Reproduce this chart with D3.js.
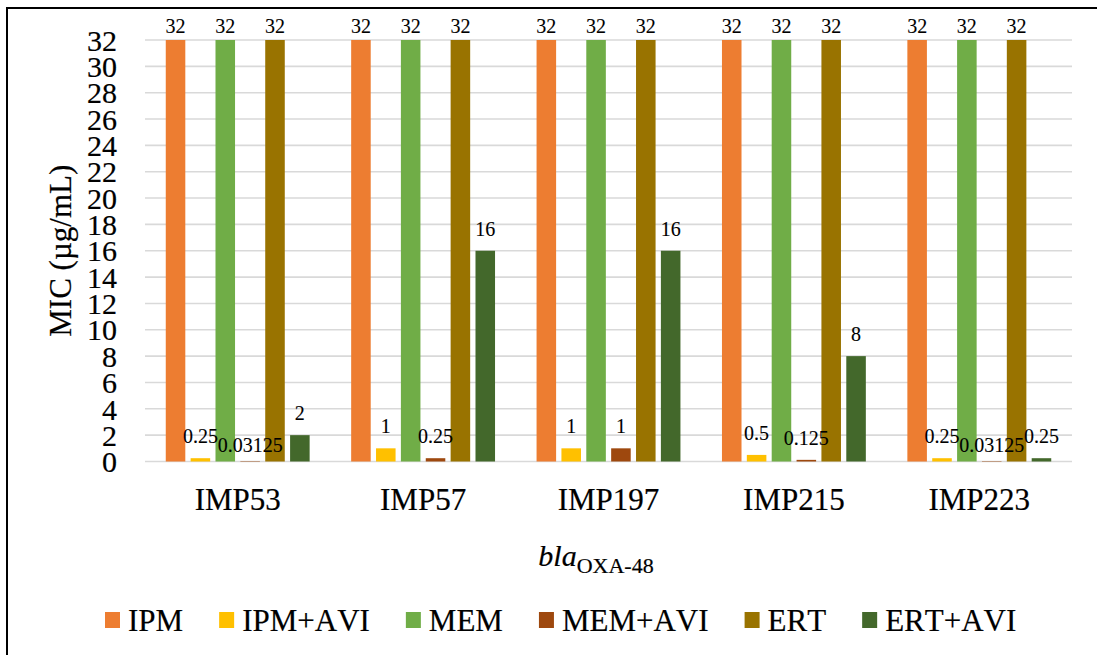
<!DOCTYPE html>
<html>
<head>
<meta charset="utf-8">
<script src="https://cdn.jsdelivr.net/npm/d3@7"></script>
<style>
  html, body { margin: 0; padding: 0; background: #ffffff; }
  svg text {
    font-family: "Liberation Serif", "Times New Roman", serif !important;
    font-kerning: none;
    stroke: #000;
    stroke-width: 0.2px;
  }
</style>
</head>
<body>
<svg id="chart" width="1097" height="655"></svg>
<script>
// Isolates carrying blaOXA-48
const categories = ["IMP53", "IMP57", "IMP197", "IMP215", "IMP223"];
const seriesNames = ["IPM", "IPM+AVI", "MEM", "MEM+AVI", "ERT", "ERT+AVI"];

// MIC values (µg/mL) per isolate
const ipm    = [32, 32, 32, 32, 32];
const ipmAvi = [0.25, 1, 1, 0.5, 0.25];
const mem    = [32, 32, 32, 32, 32];
const memAvi = [0.03125, 0.25, 1, 0.125, 0.03125];
const ert    = [32, 32, 32, 32, 32];
const ertAvi = [2, 16, 16, 8, 0.25];

const yTicks = [0, 2, 4, 6, 8, 10, 12, 14, 16, 18, 20, 22, 24, 26, 28, 30, 32];

const seriesValues = [ipm, ipmAvi, mem, memAvi, ert, ertAvi];
const seriesColors = ["#ED7D31", "#FFC000", "#70AD47", "#9E480E", "#997300", "#43682B"];

const svg = d3.select("#chart");
const W = 1097, H = 655;
const plot = { left: 145, right: 1072, top: 40, bottom: 461.5 };

// outer frame
svg.append("rect")
  .attr("x", 7).attr("y", 8)
  .attr("width", W).attr("height", H)
  .attr("fill", "none").attr("stroke", "#000").attr("stroke-width", 2);

const x0 = d3.scaleBand().domain(categories).range([plot.left, plot.right]).padding(0);
const x1 = d3.scaleBand().domain(seriesNames).range([0, x0.bandwidth()])
  .paddingInner(0.214).paddingOuter(0.835);
const y = d3.scaleLinear().domain([0, 32]).range([plot.bottom, plot.top]);

// horizontal gridlines
svg.append("g")
  .selectAll("line")
  .data(yTicks)
  .join("line")
  .attr("x1", plot.left).attr("x2", plot.right)
  .attr("y1", d => y(d)).attr("y2", d => y(d))
  .attr("stroke", "#d9d9d9").attr("stroke-width", 1.6);

// y axis labels
const yAxis = d3.axisLeft(y).tickValues(yTicks).tickSize(0).tickPadding(0).tickFormat(d3.format("d"));
const gy = svg.append("g").attr("transform", `translate(${plot.left - 28},0)`).call(yAxis);
gy.select(".domain").remove();
gy.selectAll("text")
  .attr("font-size", 30)
  .attr("fill", "#000")
  .attr("dy", "0.34em");

// x axis category labels
const xAxis = d3.axisBottom(x0).tickSize(0).tickPadding(0);
const gx = svg.append("g").attr("transform", `translate(0,${plot.bottom})`).call(xAxis);
gx.select(".domain").remove();
gx.selectAll("text")
  .attr("font-size", 31)
  .attr("fill", "#000")
  .attr("dy", 0)
  .attr("y", 48);

// bars
const rows = [];
categories.forEach((c, i) => {
  seriesNames.forEach((s, j) => {
    rows.push({ cat: c, series: s, value: seriesValues[j][i], color: seriesColors[j] });
  });
});

svg.append("g")
  .selectAll("rect")
  .data(rows)
  .join("rect")
  .attr("x", d => x0(d.cat) + x1(d.series))
  .attr("width", x1.bandwidth())
  .attr("y", d => y(d.value))
  .attr("height", d => y(0) - y(d.value))
  .attr("fill", d => d.color);

// value labels above bars, kept inside the plotting region
const labelBaseline = d => {
  const off = d.value < 0.1 ? 9 : 15;
  return Math.max(y(d.value) - off, plot.top - 7);
};
svg.append("g")
  .selectAll("text")
  .data(rows)
  .join("text")
  .attr("x", d => x0(d.cat) + x1(d.series) + x1.bandwidth() / 2)
  .attr("y", labelBaseline)
  .attr("text-anchor", "middle")
  .attr("font-size", 20)
  .attr("fill", "#000")
  .style("stroke-width", "0.1px")
  .text(d => String(d.value));

// y axis title
svg.append("text")
  .attr("transform", `translate(71,${(plot.top + plot.bottom) / 2}) rotate(-90)`)
  .attr("text-anchor", "middle")
  .attr("font-size", 31)
  .attr("fill", "#000")
  .text("MIC (µg/mL)");

// x axis title: bla with OXA-48 subscript
const xt = svg.append("text")
  .attr("x", 596).attr("y", 566)
  .attr("text-anchor", "middle")
  .attr("fill", "#000");
xt.append("tspan").attr("font-style", "italic").attr("font-size", 30).text("bla");
xt.append("tspan").attr("font-size", 22).attr("dy", 7).text("OXA-48");

// legend
const legend = svg.append("g");
let lx = 105;
seriesNames.forEach((s, j) => {
  legend.append("rect")
    .attr("x", lx).attr("y", 612)
    .attr("width", 15).attr("height", 16)
    .attr("fill", seriesColors[j]);
  const t = legend.append("text")
    .attr("x", lx + 23).attr("y", 631)
    .attr("font-size", 31)
    .attr("fill", "#000")
    .text(s);
  lx += 23 + t.node().getComputedTextLength() + 36;
});
</script>
</body>
</html>
